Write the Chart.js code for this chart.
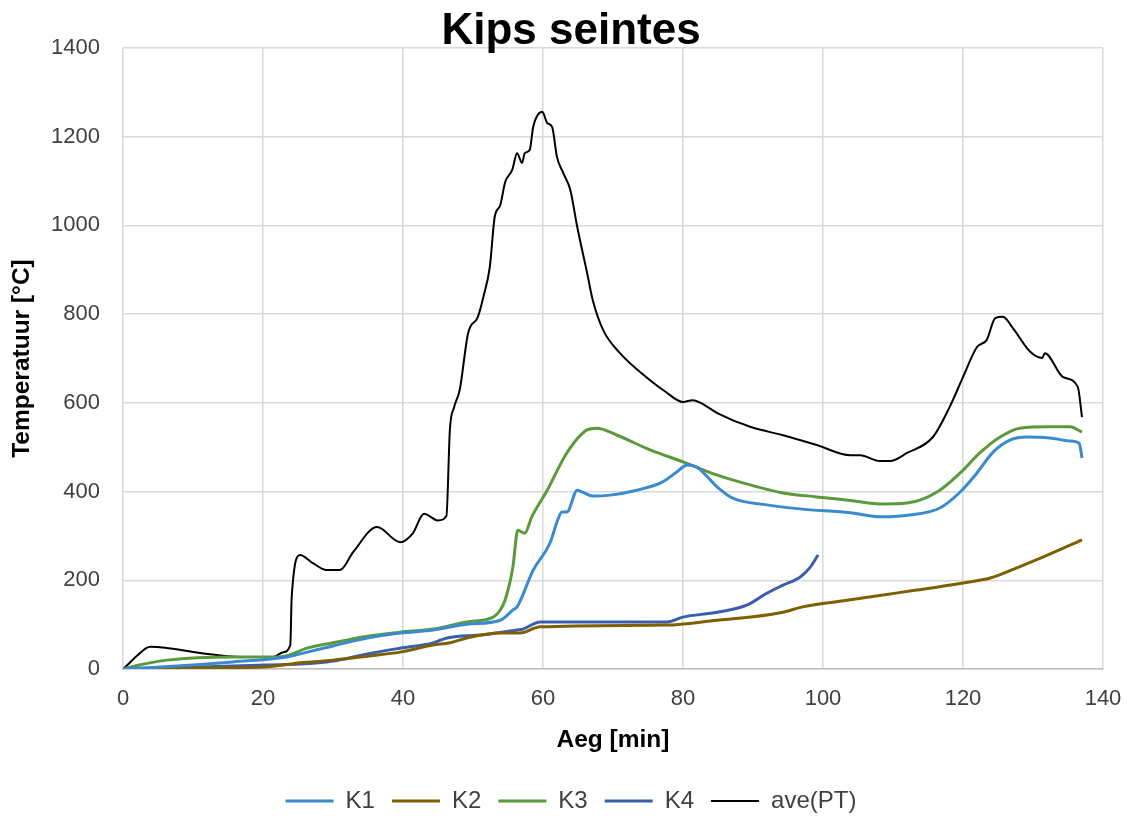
<!DOCTYPE html>
<html>
<head>
<meta charset="utf-8">
<script src="https://cdn.jsdelivr.net/npm/chart.js@4/dist/chart.umd.min.js"></script>
<style>
  html, body { margin: 0; padding: 0; background: #ffffff; }
  #wrap { width: 1128px; height: 816px; }
</style>
</head>
<body>
<div id="wrap"><canvas id="c" width="1128" height="816"></canvas></div>
<script>
const chartTitle = 'Kips seintes';
const xTitle = 'Aeg [min]';
const yTitle = 'Temperatuur [°C]';
const seriesNames = ['K1', 'K2', 'K3', 'K4', 'ave(PT)'];
const seriesColors = ['#3A8AD0', '#7F6000', '#5B9A3C', '#3A5EAE', '#000000'];

const k1Time = [0, 6, 15.7, 23.4, 26.3, 30, 34.9, 39.6, 44.3, 49.1, 53.9, 55.7, 56.3, 58.6, 61, 62.1, 62.7, 63.4, 64.9, 65.6, 67.1, 69.6, 73.4, 77.1, 79.1, 80.6, 82, 84.9, 87.1, 92, 96.7, 103.9, 108.6, 112.4, 116.7, 119.6, 122, 124.3, 126.7, 129.1, 132.4, 135.3, 136.6, 137];
const k1Temp = [0, 5, 16, 27, 38, 52, 70, 81, 88, 101, 110, 133, 140, 223, 284, 336, 354, 354, 403, 399, 390, 392, 403, 422, 444, 460, 455, 410, 385, 370, 361, 352, 343, 347, 363, 399, 442, 489, 516, 523, 521, 514, 509, 476];

const k2Time = [0, 10, 20.6, 25.3, 30, 34.9, 39.6, 44.3, 46.7, 49.1, 53.9, 56.7, 59.6, 77.7, 84.9, 89.6, 94.3, 97.1, 103.9, 108.6, 113.4, 120, 123.9, 127.7, 131.4, 137];
const k2Temp = [0, 2, 5, 14, 20, 29, 38, 54, 59, 70, 81, 81, 95, 99, 110, 117, 128, 140, 156, 167, 178, 194, 205, 228, 252, 291];

const k3Time = [0, 2, 6.3, 15.7, 22, 23.4, 26.3, 30, 34.9, 39.6, 44.3, 49.1, 52.9, 53.9, 54.6, 55.7, 56.4, 57.4, 58.4, 60.6, 63.4, 66.3, 67.7, 70.6, 75.3, 80, 84.9, 89.6, 94.3, 99.1, 103.9, 108.6, 112, 116.3, 119.6, 122.4, 125.3, 128.1, 132.4, 135.3, 137];
const k3Temp = [0, 8, 20, 27, 27, 30, 47, 59, 74, 83, 90, 106, 117, 133, 156, 230, 313, 306, 343, 403, 487, 539, 543, 527, 494, 467, 437, 415, 397, 388, 380, 372, 374, 399, 442, 487, 523, 543, 546, 546, 534];

const k4Time = [0, 10, 20.6, 25.3, 30, 34.9, 39.6, 44.3, 46.3, 51.4, 56.3, 57.1, 59.6, 77.7, 80, 84.9, 89.1, 92, 94.3, 96.7, 98.1, 99.3];
const k4Temp = [0, 4, 9, 11, 18, 34, 47, 59, 70, 77, 88, 90, 106, 106, 117, 128, 144, 171, 189, 207, 228, 257];

const aveTime = [0, 0.7, 2, 3.9, 6, 11, 17, 21.4, 22.9, 23.9, 24.1, 25.3, 27, 29.1, 31, 32.9, 36.3, 39.6, 41.4, 43, 45, 46.2, 46.7, 47.3, 48.1, 49.3, 50.7, 51.5, 52.4, 53.1, 53.9, 54.6, 55.6, 56.3, 57, 57.4, 58.1, 58.6, 59.9, 60.6, 61.3, 62, 62.9, 63.9, 64.9, 66.3, 67.1, 68.6, 71, 74.9, 77.5, 80, 81.4, 82.5, 84.9, 89.6, 94.3, 99.1, 103.9, 105.3, 108.1, 109.6, 112, 115.7, 118.1, 120, 122, 123.4, 124.6, 125.7, 127.1, 129.6, 131.3, 131.7, 134.3, 136.4, 137];
const aveTemp = [0, 10, 30, 50, 48, 36, 27, 27, 38, 54, 162, 257, 240, 223, 223, 264, 320, 286, 306, 350, 335, 345, 540, 590, 629, 757, 794, 840, 906, 1019, 1046, 1098, 1125, 1163, 1141, 1163, 1170, 1222, 1256, 1231, 1222, 1154, 1118, 1080, 996, 893, 832, 764, 712, 656, 625, 602, 606, 600, 577, 546, 527, 505, 482, 482, 469, 469, 487, 523, 591, 658, 726, 742, 791, 794, 769, 715, 701, 712, 658, 636, 568];

const xTicks = [0, 20, 40, 60, 80, 100, 120, 140];
const yTicks = [0, 200, 400, 600, 800, 1000, 1200, 1400];

const times = [k1Time, k2Time, k3Time, k4Time, aveTime];
const temps = [k1Temp, k2Temp, k3Temp, k4Temp, aveTemp];

const datasets = seriesNames.map((name, i) => ({
  label: name,
  data: times[i].map((t, j) => ({ x: t, y: temps[i][j] })),
  borderColor: seriesColors[i],
  backgroundColor: seriesColors[i],
  borderWidth: i === 4 ? 2 : 3,
  pointRadius: 0,
  pointHoverRadius: 0,
  fill: false,
  cubicInterpolationMode: 'monotone',
  pointStyle: 'line'
}));

const legendFix = {
  id: 'legendFix',
  afterInit(chart) {
    const lg = chart.legend;
    if (!lg) return;
    const orig = lg.fit.bind(lg);
    lg.fit = function () { orig(); this.height = 44; };
  }
};

const FONT = "'Liberation Sans', Arial, sans-serif";

new Chart(document.getElementById('c'), {
  type: 'line',
  data: { datasets },
  plugins: [legendFix],
  options: {
    responsive: false,
    animation: false,
    devicePixelRatio: 1,
    layout: { padding: { left: 39, right: 25, top: 0, bottom: 0 } },
    plugins: {
      title: {
        display: true,
        text: chartTitle,
        color: '#000000',
        font: { family: FONT, size: 44, weight: 'bold', lineHeight: 1.0 },
        padding: { top: 10, bottom: -6 }
      },
      legend: {
        display: true,
        position: 'bottom',
        labels: {
          color: '#404040',
          font: { family: FONT, size: 24 },
          usePointStyle: true,
          pointStyleWidth: 48,
          padding: 17
        }
      },
      tooltip: { enabled: false }
    },
    scales: {
      x: {
        type: 'linear',
        min: 0,
        max: 140,
        afterBuildTicks: s => { s.ticks = xTicks.map(v => ({ value: v })); },
        afterFit: s => { s.height = 103; s.paddingLeft = 0; s.paddingRight = 0; },
        grid: { color: '#d9d9d9', lineWidth: 1.5, drawTicks: false },
        border: { display: true, color: '#bfbfbf', width: 1.5 },
        ticks: { color: '#404040', font: { family: FONT, size: 22 }, padding: 17, maxRotation: 0, callback: v => String(v) },
        title: {
          display: true,
          text: xTitle,
          color: '#000000',
          font: { family: FONT, size: 24.5, weight: 'bold' },
          padding: { top: 0, bottom: 17 }
        }
      },
      y: {
        type: 'linear',
        min: 0,
        max: 1400,
        afterBuildTicks: s => { s.ticks = yTicks.map(v => ({ value: v })); },
        afterFit: s => { s.width = 84; },
        grid: { color: '#d9d9d9', lineWidth: 1.5, drawTicks: false },
        border: { display: false },
        ticks: { color: '#404040', font: { family: FONT, size: 22 }, padding: 23, callback: v => String(v) },
        title: {
          display: true,
          text: yTitle,
          color: '#000000',
          font: { family: FONT, size: 24.5, weight: 'bold' },
          padding: { top: -31, bottom: 0 }
        }
      }
    }
  }
});
</script>
</body>
</html>
